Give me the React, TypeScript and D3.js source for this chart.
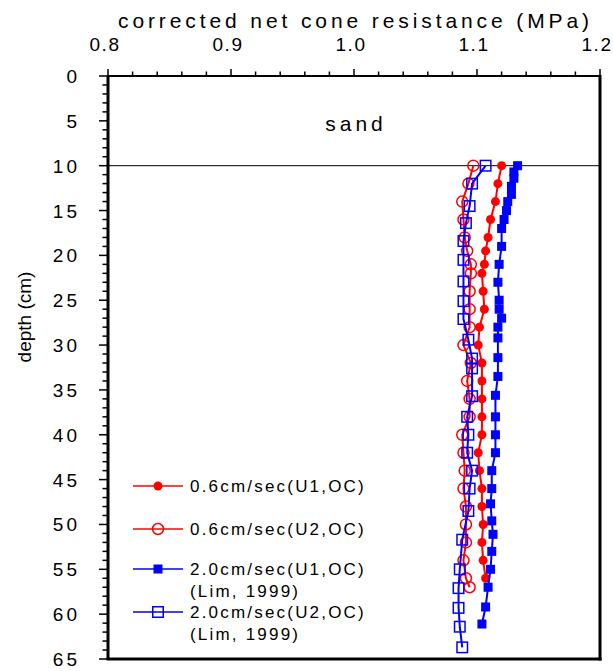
import * as d3 from 'd3';

// depth (cm) and corrected net cone resistance (MPa)
const depthU1Slow = [10, 12, 14, 16, 18, 19.5, 21, 22, 24, 26, 28, 30, 32, 34, 36, 38, 40, 42, 44, 46, 48, 50, 52, 54, 56];
const qU1Slow = [1.12, 1.117, 1.115, 1.111, 1.109, 1.107, 1.106, 1.104, 1.105, 1.106, 1.102, 1.101, 1.104, 1.104, 1.104, 1.104, 1.104, 1.101, 1.102, 1.104, 1.104, 1.105, 1.104, 1.105, 1.107];

const depthU2Slow = [10, 12, 14, 16, 18, 19.5, 21, 22, 24, 26, 28, 30, 32, 34, 36, 38, 40, 42, 44, 46, 48, 50, 52, 54, 56, 57];
const qU2Slow = [1.097, 1.093, 1.088, 1.089, 1.09, 1.092, 1.095, 1.095, 1.094, 1.094, 1.094, 1.089, 1.095, 1.092, 1.094, 1.094, 1.088, 1.089, 1.09, 1.089, 1.091, 1.091, 1.091, 1.089, 1.091, 1.094];

const depthU1Fast = [10, 10.7, 11.4, 12.3, 13.2, 14, 15, 16, 17, 19, 21, 23, 25, 26, 27, 28, 29.2, 31.4, 33.5, 35.6, 38, 40, 42, 44, 46, 47.7, 49.6, 51.1, 53, 55, 57, 59.2, 61.1];
const qU1Fast = [1.133, 1.13, 1.13, 1.128, 1.128, 1.125, 1.124, 1.122, 1.12, 1.12, 1.118, 1.117, 1.118, 1.118, 1.12, 1.117, 1.117, 1.117, 1.117, 1.115, 1.115, 1.115, 1.115, 1.112, 1.112, 1.111, 1.112, 1.113, 1.112, 1.111, 1.109, 1.107, 1.104];

const depthU2Fast = [10, 12, 14.5, 16.4, 18.4, 20.5, 22.9, 25.1, 27.1, 29.4, 31.5, 32.6, 35.7, 38, 40, 42, 44, 46, 48.5, 51.7, 55, 57.1, 59.3, 61.4, 63.7];
const qU2Fast = [1.107, 1.096, 1.094, 1.091, 1.089, 1.089, 1.089, 1.089, 1.089, 1.093, 1.096, 1.096, 1.096, 1.092, 1.093, 1.092, 1.096, 1.094, 1.093, 1.088, 1.086, 1.085, 1.085, 1.086, 1.088];

const xTicks = [0.8, 0.9, 1.0, 1.1, 1.2];
const yTicks = [0, 5, 10, 15, 20, 25, 30, 35, 40, 45, 50, 55, 60, 65];

const seriesList = [
  { label: '0.6cm/sec(U1,OC)', sub: '', depth: depthU1Slow, q: qU1Slow, color: '#ff0000', marker: 'circle', filled: true },
  { label: '0.6cm/sec(U2,OC)', sub: '', depth: depthU2Slow, q: qU2Slow, color: '#ff0000', marker: 'circle', filled: false },
  { label: '2.0cm/sec(U1,OC)', sub: '(Lim, 1999)', depth: depthU1Fast, q: qU1Fast, color: '#0000ff', marker: 'square', filled: true },
  { label: '2.0cm/sec(U2,OC)', sub: '(Lim, 1999)', depth: depthU2Fast, q: qU2Fast, color: '#0000ff', marker: 'square', filled: false },
];

const left = 108;
const right = 600;
const top = 76;
const bottom = 659;

const font = 'Arial, "Liberation Sans", sans-serif';

function Marker({ kind, filled, color, x, y }: { kind: string; filled: boolean; color: string; x: number; y: number }) {
  if (kind === 'circle') {
    return filled
      ? <circle cx={x} cy={y} r={4.5} fill={color} />
      : <circle cx={x} cy={y} r={5.5} fill="none" stroke={color} strokeWidth={1.5} />;
  }
  const s = filled ? 9 : 10.5;
  return filled
    ? <rect x={x - s / 2} y={y - s / 2} width={s} height={s} fill={color} />
    : <rect x={x - s / 2} y={y - s / 2} width={s} height={s} fill="none" stroke={color} strokeWidth={1.5} />;
}

export default function App() {
  const width = 613;
  const height = 671;

  const x = d3.scaleLinear().domain([0.8, 1.2]).range([left, right]);
  const y = d3.scaleLinear().domain([0, 65]).range([top, bottom]);

  const line = d3.line<[number, number]>().x((d) => x(d[1])).y((d) => y(d[0]));

  const xMinor = d3.range(0.8, 1.2001, 0.02);
  const yMinor = d3.range(0, 66, 1);

  const legendRows = [486, 529, 569, 612];

  return (
    <svg width={width} height={height} style={{ position: 'absolute', left: 0, top: 0 }} fontFamily={font}>
      <rect width={width} height={height} fill="#ffffff" />

      <text x={118} y={28} fontSize={21} textLength={471} lengthAdjust="spacing" fill="#000">
        corrected net cone resistance (MPa)
      </text>

      {xTicks.map((t) => (
        <text key={`xt-${t}`} x={x(t) - 3} y={51} textAnchor="middle" fontSize={19} letterSpacing={1.5} fill="#000">
          {t.toFixed(1)}
        </text>
      ))}

      {xMinor.map((t, i) => (
        <line key={`xm-${i}`} x1={x(t)} x2={x(t)} y1={top} y2={top - (i % 5 === 0 ? 7 : 4.5)} stroke="#000" strokeWidth={1.5} />
      ))}

      {yMinor.map((t) => (
        <line key={`ym-${t}`} x1={left} x2={left - (t % 5 === 0 ? 9 : 5.5)} y1={y(t)} y2={y(t)} stroke="#000" strokeWidth={1.5} />
      ))}

      {yTicks.map((t) => (
        <text key={`yt-${t}`} x={80} y={y(t) + 7} textAnchor="end" fontSize={19} letterSpacing={3} fill="#000">
          {t}
        </text>
      ))}

      <text transform={`translate(31,317) rotate(-90)`} textAnchor="middle" fontSize={19} fill="#000">
        depth (cm)
      </text>

      <text x={356} y={131} textAnchor="middle" fontSize={21} letterSpacing={4} fill="#000">
        sand
      </text>

      <line x1={left} x2={right} y1={y(10)} y2={y(10)} stroke="#000" strokeWidth={1} />

      {seriesList.map((s) => {
        const pts = s.depth.map((d, i) => [d, s.q[i]] as [number, number]);
        return (
          <g key={s.label}>
            <path d={line(pts) ?? ''} fill="none" stroke={s.color} strokeWidth={2} />
            {pts.map((p, i) => (
              <Marker key={i} kind={s.marker} filled={s.filled} color={s.color} x={x(p[1])} y={y(p[0])} />
            ))}
          </g>
        );
      })}

      {/* frame */}
      <line x1={left} x2={right} y1={top} y2={top} stroke="#000" strokeWidth={2} />
      <line x1={left} x2={left} y1={top} y2={bottom} stroke="#000" strokeWidth={3} />
      <line x1={right} x2={right} y1={top - 1} y2={bottom + 1.5} stroke="#000" strokeWidth={3} />
      <line x1={left - 1.5} x2={right + 1.5} y1={bottom} y2={bottom} stroke="#000" strokeWidth={3} />

      {seriesList.map((s, i) => {
        const ly = legendRows[i];
        return (
          <g key={`lg-${s.label}`}>
            <line x1={133} x2={183} y1={ly} y2={ly} stroke={s.color} strokeWidth={1.3} />
            <Marker kind={s.marker} filled={s.filled} color={s.color} x={158} y={ly} />
            <text x={190} y={ly + 6} fontSize={17} letterSpacing={2.2} fill="#000">
              {s.label}
            </text>
            {s.sub && (
              <text x={190} y={ly + 28} fontSize={17} letterSpacing={2.2} fill="#000">
                {s.sub}
              </text>
            )}
          </g>
        );
      })}
    </svg>
  );
}
